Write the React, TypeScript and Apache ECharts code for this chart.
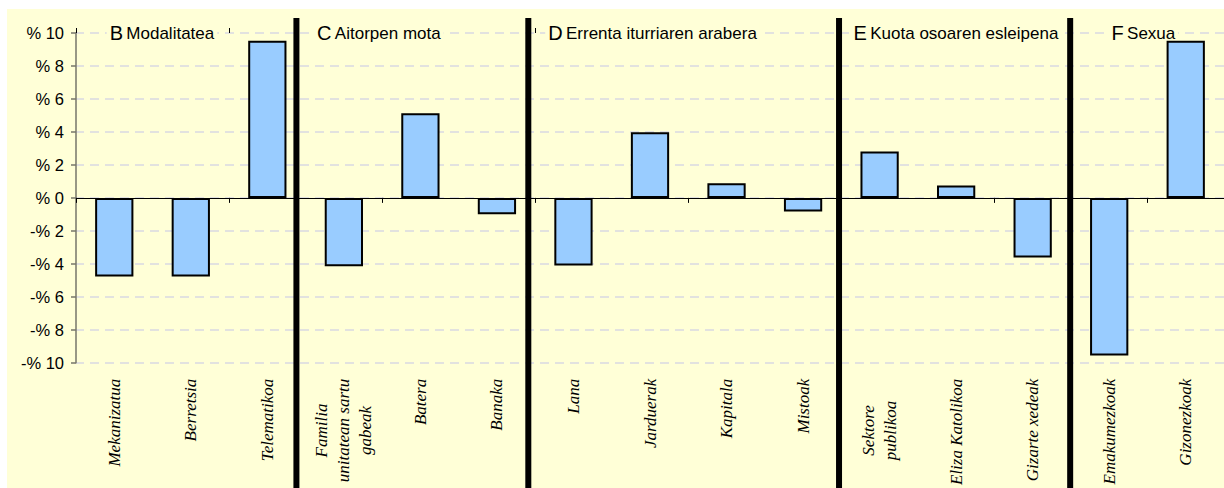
import React, { useEffect, useRef } from "react";
import * as echarts from "echarts";

const categories = [
  "Mekanizatua",
  "Berretsia",
  "Telematikoa",
  "Familia\nunitatean sartu\ngabeak",
  "Batera",
  "Banaka",
  "Lana",
  "Jarduerak",
  "Kapitala",
  "Mistoak",
  "Sektore\npublikoa",
  "Eliza Katolikoa",
  "Gizarte xedeak",
  "Emakumezkoak",
  "Gizonezkoak",
];
const values = [-4.77, -4.77, 9.53, -4.15, 5.13, -1.0, -4.1, 3.98, 0.89, -0.83, 2.81, 0.75, -3.62, -9.56, 9.53];

const yMin = -10;
const yMax = 10;
const yStep = 2;

const groupLetters = ["B", "C", "D", "E", "F"];
const groupNames = ["Modalitatea", "Aitorpen mota", "Errenta iturriaren arabera", "Kuota osoaren esleipena", "Sexua"];
// positions in category units from the left edge of the plot
const groupTitlePos = [0.44, 3.15, 6.17, 10.16, 13.53];
const separatorPos = [2.88, 5.91, 9.97, 12.99];

const BG = "#FFFFD7";
const SERIF = '"Liberation Serif", "Times New Roman", serif';
const SANS = '"Liberation Sans", Arial, sans-serif';

function measure(text: string, font: string): number {
  const c = document.createElement("canvas");
  const ctx = c.getContext("2d");
  if (!ctx) return text.length * 7;
  ctx.font = font;
  return ctx.measureText(text).width;
}

export default function App() {
  const ref = useRef<HTMLDivElement>(null);

  useEffect(() => {
    if (!ref.current) return;
    const chart = echarts.init(ref.current, null, { renderer: "svg" });
    const labelFont = `italic 17px ${SERIF}`;

    const labelFormatter = (v: string) => {
      if (v.indexOf("\n") < 0) return v;
      const lines = v.split("\n");
      return lines.map((l) => `{c|${l}}`).join("\n");
    };
    const maxMulti = Math.max(
      ...categories
        .filter((c) => c.indexOf("\n") >= 0)
        .flatMap((c) => c.split("\n"))
        .map((l) => measure(l, labelFont))
    );

    const hiddenCat = {
      type: "category" as const,
      data: categories,
      min: 0,
      max: categories.length - 1,
      boundaryGap: true,
    };

    chart.setOption({
      animation: false,
      backgroundColor: BG,
      grid: { left: 69, top: 24, bottom: 124, right: -9, containLabel: false },
      xAxis: [
        {
          ...hiddenCat,
          position: "bottom",
          axisLine: { show: true, onZero: true, lineStyle: { color: "#000", width: 1 } },
          axisTick: { show: true, length: 5, lineStyle: { color: "#000", width: 1 } },
          axisLabel: { show: false },
          splitLine: { show: false },
        },
        {
          ...hiddenCat,
          position: "top",
          axisLine: { show: false, onZero: true },
          axisTick: { show: true, length: 5, lineStyle: { color: "#000", width: 1 } },
          axisLabel: { show: false },
          splitLine: { show: false },
        },
        {
          ...hiddenCat,
          position: "bottom",
          axisLine: { show: false, onZero: false },
          axisTick: { show: false },
          splitLine: { show: false },
          axisLabel: {
            show: true,
            interval: 0,
            rotate: 90,
            margin: 16,
            fontFamily: SERIF,
            fontStyle: "italic",
            fontSize: 17,
            lineHeight: 22,
            color: "#000",
            formatter: labelFormatter,
            rich: {
              c: {
                width: maxMulti,
                align: "center",
                fontFamily: SERIF,
                fontStyle: "italic",
                fontSize: 17,
                lineHeight: 22,
                color: "#000",
              },
            },
          },
        },
      ],
      yAxis: {
        type: "value",
        min: yMin,
        max: yMax,
        interval: yStep,
        axisLine: { show: true, lineStyle: { color: "#76766a", width: 1.5 } },
        axisTick: { show: true, length: 5, lineStyle: { color: "#76766a", width: 1.5 } },
        axisLabel: {
          fontFamily: SANS,
          fontSize: 16.5,
          color: "#000",
          margin: 12,
          formatter: (v: number) => (v < 0 ? `-% ${-v}` : `% ${v}`),
        },
        splitLine: { show: true, lineStyle: { color: "#d9d9e2", width: 1.5, type: [9, 6], dashOffset: -14 } },
      },
      series: [
        {
          type: "bar",
          xAxisIndex: 0,
          yAxisIndex: 0,
          data: values,
          barWidth: "50%",
          z: 3,
          itemStyle: { color: "#99CCFF", borderColor: "#000", borderWidth: 2 },
        },
      ],
    });

    const c0 = chart.convertToPixel({ xAxisIndex: 0 }, 0) as number;
    const c1 = chart.convertToPixel({ xAxisIndex: 0 }, 1) as number;
    const bw = c1 - c0;
    const left = c0 - bw / 2;
    const px = (u: number) => left + u * bw;
    const y10 = chart.convertToPixel({ yAxisIndex: 0 }, yMax) as number;

    const graphics: any[] = [];
    separatorPos.forEach((p) => {
      graphics.push({
        type: "rect",
        z: 100,
        shape: { x: px(p) - 3, y: 9, width: 6, height: 500 },
        style: { fill: "#000" },
      });
    });
    groupLetters.forEach((l, i) => {
      graphics.push({
        type: "text",
        z: 1,
        x: px(groupTitlePos[i]) - 3,
        y: y10,
        style: {
          text: `{l|${l}} {n|${groupNames[i]}}`,
          verticalAlign: "middle",
          align: "left",
          backgroundColor: BG,
          padding: [2, 3, 2, 3],
          fill: "#000",
          rich: {
            l: { fontFamily: SANS, fontSize: 20, fill: "#000", color: "#000" },
            n: { fontFamily: SANS, fontSize: 17, fill: "#000", color: "#000" },
          },
        },
      });
    });
    chart.setOption({ graphic: graphics });

    return () => chart.dispose();
  }, []);

  return (
    <div
      ref={ref}
      style={{ position: "fixed", left: 7, top: 9, width: 1217, height: 479 }}
    />
  );
}
